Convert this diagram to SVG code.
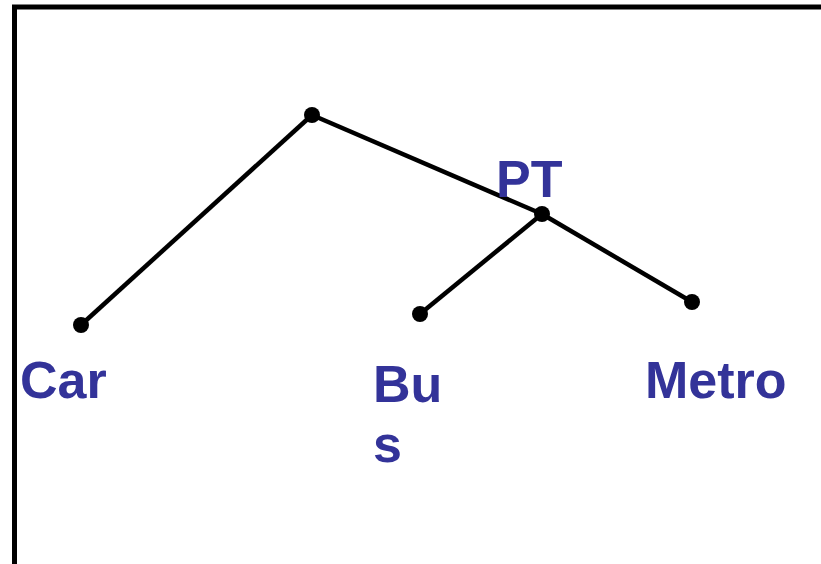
<svg xmlns="http://www.w3.org/2000/svg" width="821" height="564" viewBox="0 0 821 564">
<style>
.lbl{font-family:"Liberation Sans",Arial,sans-serif;font-weight:bold;font-size:52px;fill:#333399}
.edge{stroke:#000;stroke-width:4.5;fill:none}
.dot{fill:#000}
</style>
<rect x="0" y="0" width="821" height="564" fill="#fff"/>
<path d="M14.5,564 V7 H821" fill="none" stroke="#000" stroke-width="5"/>
<g id="connectors">
<line class="edge" x1="312" y1="115" x2="81" y2="325"/>
<line class="edge" x1="312" y1="115" x2="542" y2="214"/>
<line class="edge" x1="542" y1="214" x2="692" y2="302"/>
<line class="edge" x1="542" y1="214" x2="420" y2="314"/>
</g>
<g id="root"><circle class="dot" cx="312" cy="115" r="8"/></g>
<g id="PT"><circle class="dot" cx="542" cy="214" r="8"/><text class="lbl" x="496" y="197">PT</text></g>
<g id="Car"><circle class="dot" cx="81" cy="325" r="8"/><text class="lbl" x="20" y="398">Car</text></g>
<g id="Bus"><circle class="dot" cx="420" cy="314" r="8"/><text class="lbl" x="373" y="402">Bu</text><text class="lbl" x="373" y="462">s</text></g>
<g id="Metro"><circle class="dot" cx="692" cy="302" r="8"/><text class="lbl" x="645" y="398">Metro</text></g>
</svg>
